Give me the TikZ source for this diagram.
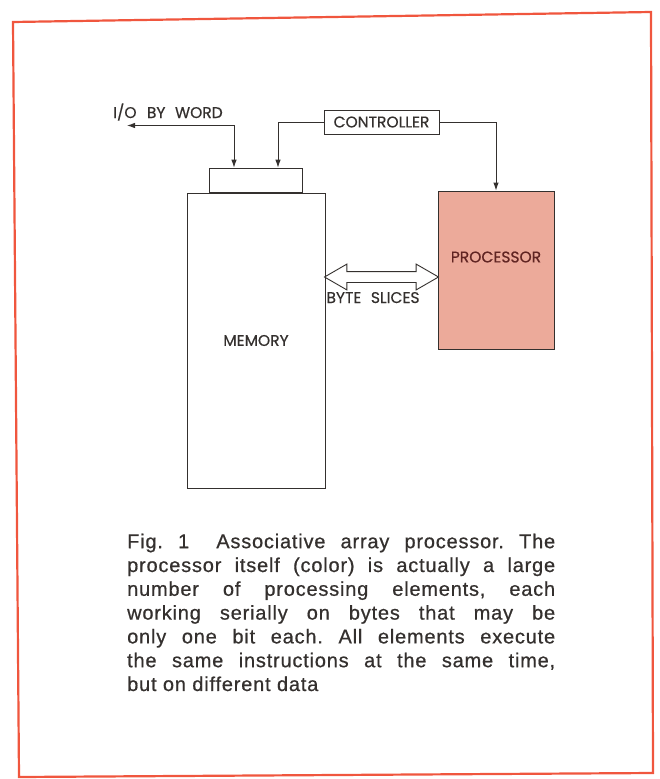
\documentclass[tikz,border=0pt]{standalone}
\usepackage{fontspec}
\usepackage{xcolor}
\usetikzlibrary{arrows.meta,positioning,calc,shapes.arrows}
\newfontfamily\labelfont[FakeBold=0.5]{Poppins}
\newfontfamily\captionfont[LetterSpace=4,FakeBold=0.6]{Liberation Sans}
\definecolor{frame}{RGB}{240,86,62}
\definecolor{ink}{RGB}{52,48,46}
\definecolor{procfill}{RGB}{236,170,154}
\definecolor{procink}{RGB}{96,36,34}

\begin{document}
\begin{tikzpicture}[
    x=1pt,y=-1pt,
    box/.style={draw=ink,line width=0.9pt,inner sep=0pt},
    lbl/.style={font=\labelfont\fontsize{15.5}{17}\selectfont,text=ink,inner sep=0pt},
    wire/.style={draw=ink,line width=0.9pt,-{Latex[length=8pt,width=5.5pt]}},
    >=Latex
]
\useasboundingbox (0,0) rectangle (659,779);
\draw[frame,line width=2.2pt,line join=miter] (13,22) -- (651,12) -- (653,773) -- (19,777) -- cycle;

% memory with its word register on top
\node[box,minimum width=138pt,minimum height=295pt] (mem) at (256,340.5) {};
\node[lbl] (memlbl) at (mem.center) {MEMORY};
\node[box,minimum width=93pt,minimum height=24pt,anchor=south] (reg) at (mem.north) {};

% processor
\node[box,fill=procfill,minimum width=116pt,minimum height=158pt] (proc) at (496,270) {};
\node[lbl,text=procink] (proclbl) at ([yshift=13pt]proc.center) {PROCESSOR};

% controller
\node[box,minimum width=115pt,minimum height=24pt] (ctrl) at (381.5,122) {};
\node[lbl] (ctrllbl) at (ctrl.center) {CONTROLLER};

% I/O
\coordinate (ioend) at (127,125.5);
\node[lbl,anchor=base west] (iolbl) at (113,118) {I/O\hspace{0.4em} BY\hspace{0.35em} WORD};
\draw[wire,{Latex[length=8pt,width=5.5pt]}-{Latex[length=8pt,width=5.5pt]}] (ioend) -| ([xshift=-22pt]reg.north);
\draw[wire] (ctrl.west) -| ([xshift=22pt]reg.north);
\draw[wire] (ctrl.east) -| (proc.north);

% byte slice bus
\node[double arrow,draw=ink,line width=0.9pt,fill=white,inner xsep=0pt,inner ysep=5pt,
      minimum height=114pt,minimum width=25pt,double arrow head extend=7.5pt,
      double arrow tip angle=60] (bus) at (381.5,277) {};
\node[lbl,anchor=base] (buslbl) at (373,303) {BYTE\hspace{0.35em} SLICES};

% caption
\node[anchor=north west,inner sep=0pt,text width=428pt,align=justify,text=ink,
      font=\captionfont\fontsize{20}{23.8}\selectfont\frenchspacing] (cap) at (127,533.5)
{Fig.~1\hspace{0.6em} Associative array processor. The\linebreak
processor itself (color) is actually a large\linebreak
number of processing elements, each\linebreak
working serially on bytes that may be\linebreak
only one bit each. All elements execute\linebreak
the same instructions at the same time,\linebreak
but on different data};
\end{tikzpicture}
\end{document}
